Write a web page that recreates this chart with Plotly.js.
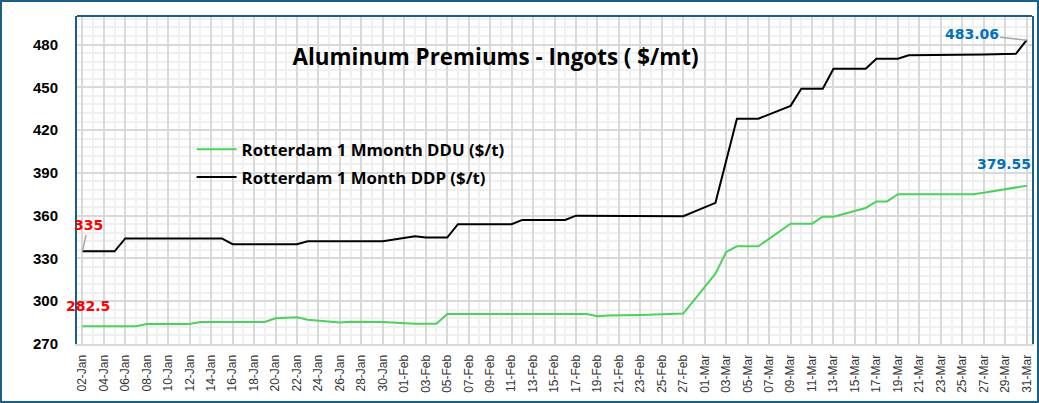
<!DOCTYPE html>
<html><head><meta charset="utf-8">
<script src="https://cdn.plot.ly/plotly-3.0.1.min.js"></script>
<style>
html,body{margin:0;padding:0;background:#fff}
#wrap{position:relative;width:1039px;height:403px}
#chart{width:1039px;height:403px}
#frame{position:absolute;left:0;top:0;width:1039px;height:403px;box-sizing:border-box;border:2px solid #1b5e86;pointer-events:none}
</style>
</head><body>
<div id="wrap"><div id="chart"></div><div id="frame"></div></div>
<script>
// ---- data ----
const dates = [
 '2026-01-02','2026-01-05','2026-01-06','2026-01-07','2026-01-08','2026-01-09',
 '2026-01-12','2026-01-13','2026-01-14','2026-01-15','2026-01-16',
 '2026-01-19','2026-01-20','2026-01-21','2026-01-22','2026-01-23',
 '2026-01-26','2026-01-27','2026-01-28','2026-01-29','2026-01-30',
 '2026-02-02','2026-02-03','2026-02-04','2026-02-05','2026-02-06',
 '2026-02-09','2026-02-10','2026-02-11','2026-02-12','2026-02-13',
 '2026-02-16','2026-02-17','2026-02-18','2026-02-19','2026-02-20',
 '2026-02-23','2026-02-24','2026-02-25','2026-02-26','2026-02-27',
 '2026-03-02','2026-03-03','2026-03-04','2026-03-05','2026-03-06',
 '2026-03-09','2026-03-10','2026-03-11','2026-03-12','2026-03-13',
 '2026-03-16','2026-03-17','2026-03-18','2026-03-19','2026-03-20',
 '2026-03-23','2026-03-24','2026-03-25','2026-03-26','2026-03-27',
 '2026-03-30','2026-03-31'
];
const dduValues = [
 282.5,282.5,282.5,282.5,284,284,
 284,285.5,285.5,285.5,285.5,
 285.5,288,288.3,288.7,287,
 285,285.6,285.6,285.6,285.4,
 284.2,284.2,284.2,291,291,
 291,291,291,291,291,
 291,291,291,289.4,290,
 290.4,290.6,290.8,291,291.3,
 319.3,334.6,338.5,338.5,338.5,
 354.4,354.4,354.4,359.3,359.3,
 365.4,370,370,375,375,
 375,375,375,375,376,
 379.5,381
];
const ddpValues = [
 335,335,344,344,344,344,
 344,344,344,344,340,
 340,340,340,340,342,
 342,342,342,342,342,
 345.5,344.6,344.6,344.6,354,
 354,354,354,357,357,
 357,360,360,360,360,
 360,360,360,360,359.6,
 369,398,428,428,428,
 437,449,449,449,463,
 463,470,470,470,472.5,
 472.5,472.5,472.5,472.5,473,
 473.5,483.06
];
const seriesNames = ['Rotterdam 1 Mmonth DDU ($/t)', 'Rotterdam 1 Month DDP ($/t)'];
const seriesColors = ['#4cd15c', '#000000'];
const pointLabels = ['335', '282.5', '483.06', '379.55'];
const chartTitle = 'Aluminum Premiums - Ingots ( $/mt)';

const BLUE = '#1b5e86';
const traces = [
  {x: dates, y: dduValues, name: seriesNames[0], type: 'scatter', mode: 'lines',
   line: {color: seriesColors[0], width: 2}, legendgroup: 'a'},
  {x: dates, y: ddpValues, name: seriesNames[1], type: 'scatter', mode: 'lines',
   line: {color: seriesColors[1], width: 2}, legendgroup: 'b'}
];

const last = dates.length - 1;
const annFont = (c) => ({family: 'DejaVu Sans, Verdana, sans-serif', size: 14, color: c, weight: 700});
const annotations = [
  {x: dates[0], y: ddpValues[0], xref: 'x', yref: 'y', text: pointLabels[0], font: annFont('#ff0000'),
   showarrow: true, arrowhead: 0, arrowwidth: 1.5, arrowcolor: '#a6a6a6', ax: 6, ay: -26, standoff: 0},
  {x: dates[0], y: dduValues[0], xref: 'x', yref: 'y', text: pointLabels[1], font: annFont('#ff0000'),
   showarrow: true, arrowhead: 0, arrowwidth: 1, arrowcolor: 'rgba(0,0,0,0)', ax: 6, ay: -20},
  {x: dates[last], y: ddpValues[last], xref: 'x', yref: 'y', text: pointLabels[2], font: annFont('#0070c0'),
   showarrow: true, arrowhead: 0, arrowwidth: 1.5, arrowcolor: '#a6a6a6', ax: -55, ay: -6, standoff: 0},
  {x: dates[last], y: dduValues[last], xref: 'x', yref: 'y', text: pointLabels[3], font: annFont('#0070c0'),
   showarrow: true, arrowhead: 0, arrowwidth: 1, arrowcolor: 'rgba(0,0,0,0)', ax: -23, ay: -22}
];

const layout = {
  width: 1039, height: 403,
  margin: {l: 77, r: 7, t: 16, b: 59, pad: 0},
  paper_bgcolor: '#ffffff', plot_bgcolor: '#ffffff',
  showlegend: true,
  legend: {x: 0.12, y: 0.647, xanchor: 'left', yanchor: 'top', bgcolor: 'rgba(0,0,0,0)',
           traceorder: 'grouped', tracegroupgap: 3, itemwidth: 40,
           font: {family: 'Open Sans, Liberation Sans, sans-serif', size: 16.8, color: '#000', weight: 700}},
  title: {text: chartTitle, xref: 'container', yref: 'container', x: 0.477, y: 0.858,
          xanchor: 'center', yanchor: 'middle',
          font: {family: 'Open Sans, Liberation Sans, sans-serif', size: 22.4, color: '#000', weight: 700}},
  xaxis: {
    type: 'date', range: ['2026-01-01 12:00', '2026-03-31 12:00'],
    tick0: '2026-01-02', dtick: 2 * 86400000, tickformat: '%d-%b', tickangle: -90,
    showgrid: true, gridcolor: '#d9d9d9', gridwidth: 2,
    minor: {dtick: 86400000, tick0: '2026-01-02', showgrid: true, gridcolor: '#f0f0f0', gridwidth: 2},
    showline: true, linecolor: '#d9d9d9', linewidth: 2, ticks: '', ticklabelstandoff: 4,
    tickfont: {family: 'Liberation Sans, Arial, sans-serif', size: 12, color: '#333'},
    zeroline: false, fixedrange: true
  },
  yaxis: {
    range: [270, 500], tick0: 270, dtick: 30,
    showgrid: true, gridcolor: '#d9d9d9', gridwidth: 2,
    minor: {dtick: 6, tick0: 270, showgrid: true, gridcolor: '#f0f0f0', gridwidth: 2},
    showline: true, linecolor: BLUE, linewidth: 2, mirror: true, ticks: '', ticklabelstandoff: 14,
    tickfont: {family: 'Liberation Sans, Arial, sans-serif', size: 15, color: '#000', weight: 700},
    zeroline: false, fixedrange: true
  },
  shapes: [
    {type: 'line', xref: 'paper', yref: 'paper', x0: 0, x1: 1, y0: 1, y1: 1, line: {color: BLUE, width: 2}}
  ],
  annotations: annotations
};

Plotly.newPlot('chart', traces, layout, {staticPlot: true, displayModeBar: false});
</script>
</body></html>
